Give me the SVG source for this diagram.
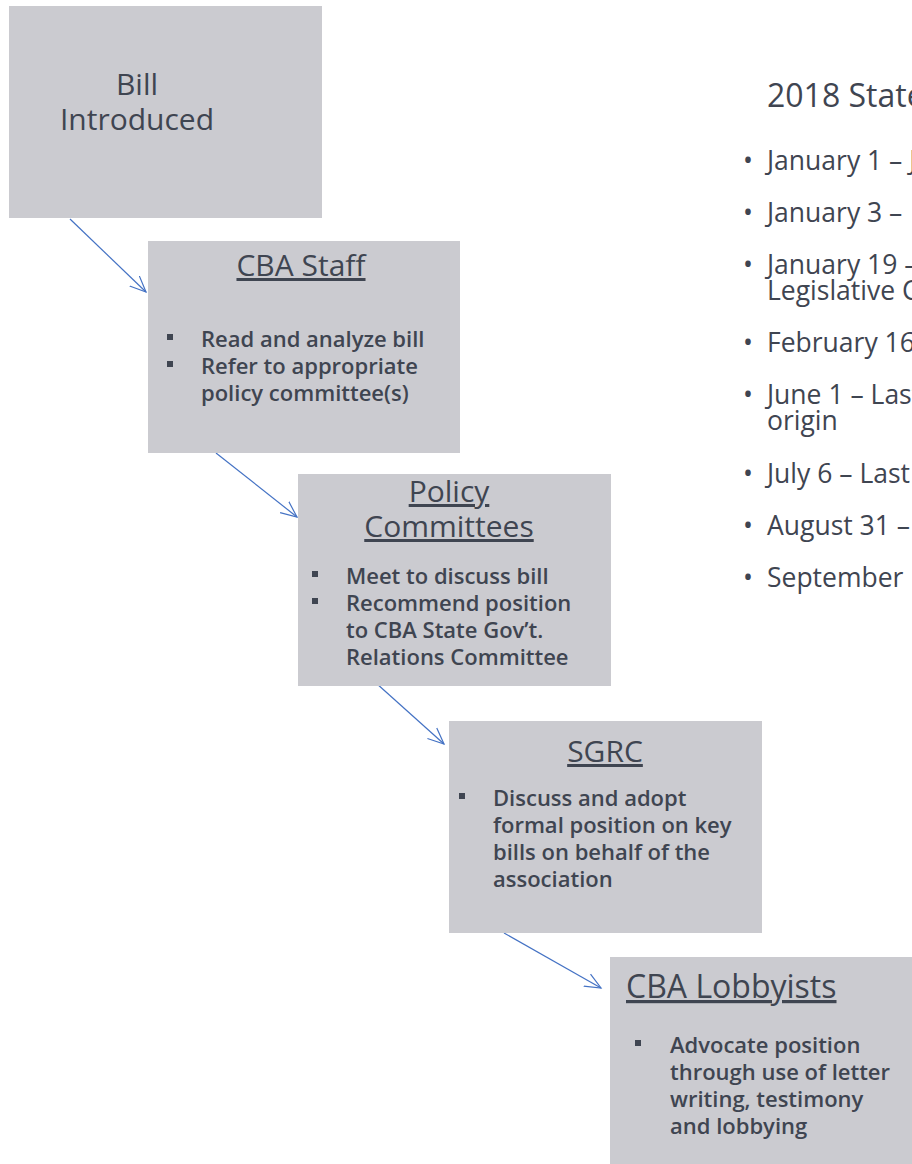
<svg xmlns="http://www.w3.org/2000/svg" width="912" height="1164" viewBox="0 0 912 1164">
<style>
.box{fill:#cbcbd0}
.t{font-family:"Open Sans","Noto Sans",sans-serif;fill:#3f4551}
.title{font-size:30px;text-decoration:underline}
.big{font-size:32px}
.b{font-size:22px;font-weight:600}
.sq{fill:#3f4551}
.r{font-size:26.5px}
.conn{stroke:#4472c4;stroke-width:1.2;fill:none}
</style>
<defs>
<marker id="ah" markerUnits="userSpaceOnUse" markerWidth="20" markerHeight="20" refX="16" refY="8" orient="auto" viewBox="0 0 20 16">
<path d="M0,1 L16,8 L0,15" fill="none" stroke="#4472c4" stroke-width="1.2"/>
</marker>
<clipPath id="edge"><rect x="0" y="0" width="912" height="1164"/></clipPath>
</defs>

<g id="connectors">
<line class="conn" x1="70" y1="219" x2="146" y2="292" marker-end="url(#ah)"/>
<line class="conn" x1="216" y1="453" x2="297" y2="517" marker-end="url(#ah)"/>
<line class="conn" x1="376" y1="683" x2="444" y2="744" marker-end="url(#ah)"/>
<line class="conn" x1="504" y1="933" x2="601" y2="988" marker-end="url(#ah)"/>
</g>

<g id="bill-introduced">
<rect class="box" x="9" y="6" width="313" height="212"/>
<text class="t" font-size="30" text-anchor="middle"><tspan x="137" y="95">Bill</tspan><tspan x="137" y="130">Introduced</tspan></text>
</g>

<g id="cba-staff">
<rect class="box" x="148" y="241" width="312" height="212"/>
<text class="t title" x="301" y="276" text-anchor="middle">CBA Staff</text>
<rect class="sq" x="167" y="334" width="6" height="6"/>
<rect class="sq" x="167" y="361" width="6" height="6"/>
<text class="t b"><tspan x="201" y="347">Read and analyze bill</tspan><tspan x="201" y="374">Refer to appropriate</tspan><tspan x="201" y="401">policy committee(s)</tspan></text>
</g>

<g id="policy-committees">
<rect class="box" x="298" y="474" width="313" height="212"/>
<text class="t title" text-anchor="middle"><tspan x="449" y="502">Policy</tspan><tspan x="449" y="537">Committees</tspan></text>
<rect class="sq" x="312" y="571" width="6" height="6"/>
<rect class="sq" x="312" y="598" width="6" height="6"/>
<text class="t b"><tspan x="346" y="584">Meet to discuss bill</tspan><tspan x="346" y="611">Recommend position</tspan><tspan x="346" y="638">to CBA State Gov’t.</tspan><tspan x="346" y="665">Relations Committee</tspan></text>
</g>

<g id="sgrc">
<rect class="box" x="449" y="721" width="313" height="212"/>
<text class="t title" x="605" y="762" text-anchor="middle">SGRC</text>
<rect class="sq" x="459" y="793" width="6" height="6"/>
<text class="t b"><tspan x="493" y="806">Discuss and adopt</tspan><tspan x="493" y="833">formal position on key</tspan><tspan x="493" y="860">bills on behalf of the</tspan><tspan x="493" y="887">association</tspan></text>
</g>

<g id="cba-lobbyists">
<rect class="box" x="610" y="957" width="302" height="207"/>
<text class="t title big" x="626" y="998">CBA Lobbyists</text>
<rect class="sq" x="635" y="1040" width="6" height="6"/>
<text class="t b"><tspan x="670" y="1053">Advocate position</tspan><tspan x="670" y="1080">through use of letter</tspan><tspan x="670" y="1107">writing, testimony</tspan><tspan x="670" y="1134">and lobbying</tspan></text>
</g>

<g id="calendar" clip-path="url(#edge)">
<text class="t" x="767" y="107" font-size="32">2018 State</text>
<g class="t r">
<text x="743" y="170">•</text><text x="767" y="170">January 1 – J</text>
<text x="743" y="222">•</text><text x="767" y="222">January 3 –</text>
<text x="743" y="274">•</text><text><tspan x="767" y="274">January 19 –</tspan><tspan x="767" y="300">Legislative C</tspan></text>
<text x="743" y="352">•</text><text x="767" y="352">February 16</text>
<text x="743" y="404">•</text><text><tspan x="767" y="404">June 1 – Last</tspan><tspan x="767" y="430">origin</tspan></text>
<text x="743" y="483">•</text><text x="767" y="483">July 6 – Last</text>
<text x="743" y="535">•</text><text x="767" y="535">August 31 –</text>
<text x="743" y="587">•</text><text x="767" y="587">September</text>
</g>
</g>
</svg>
